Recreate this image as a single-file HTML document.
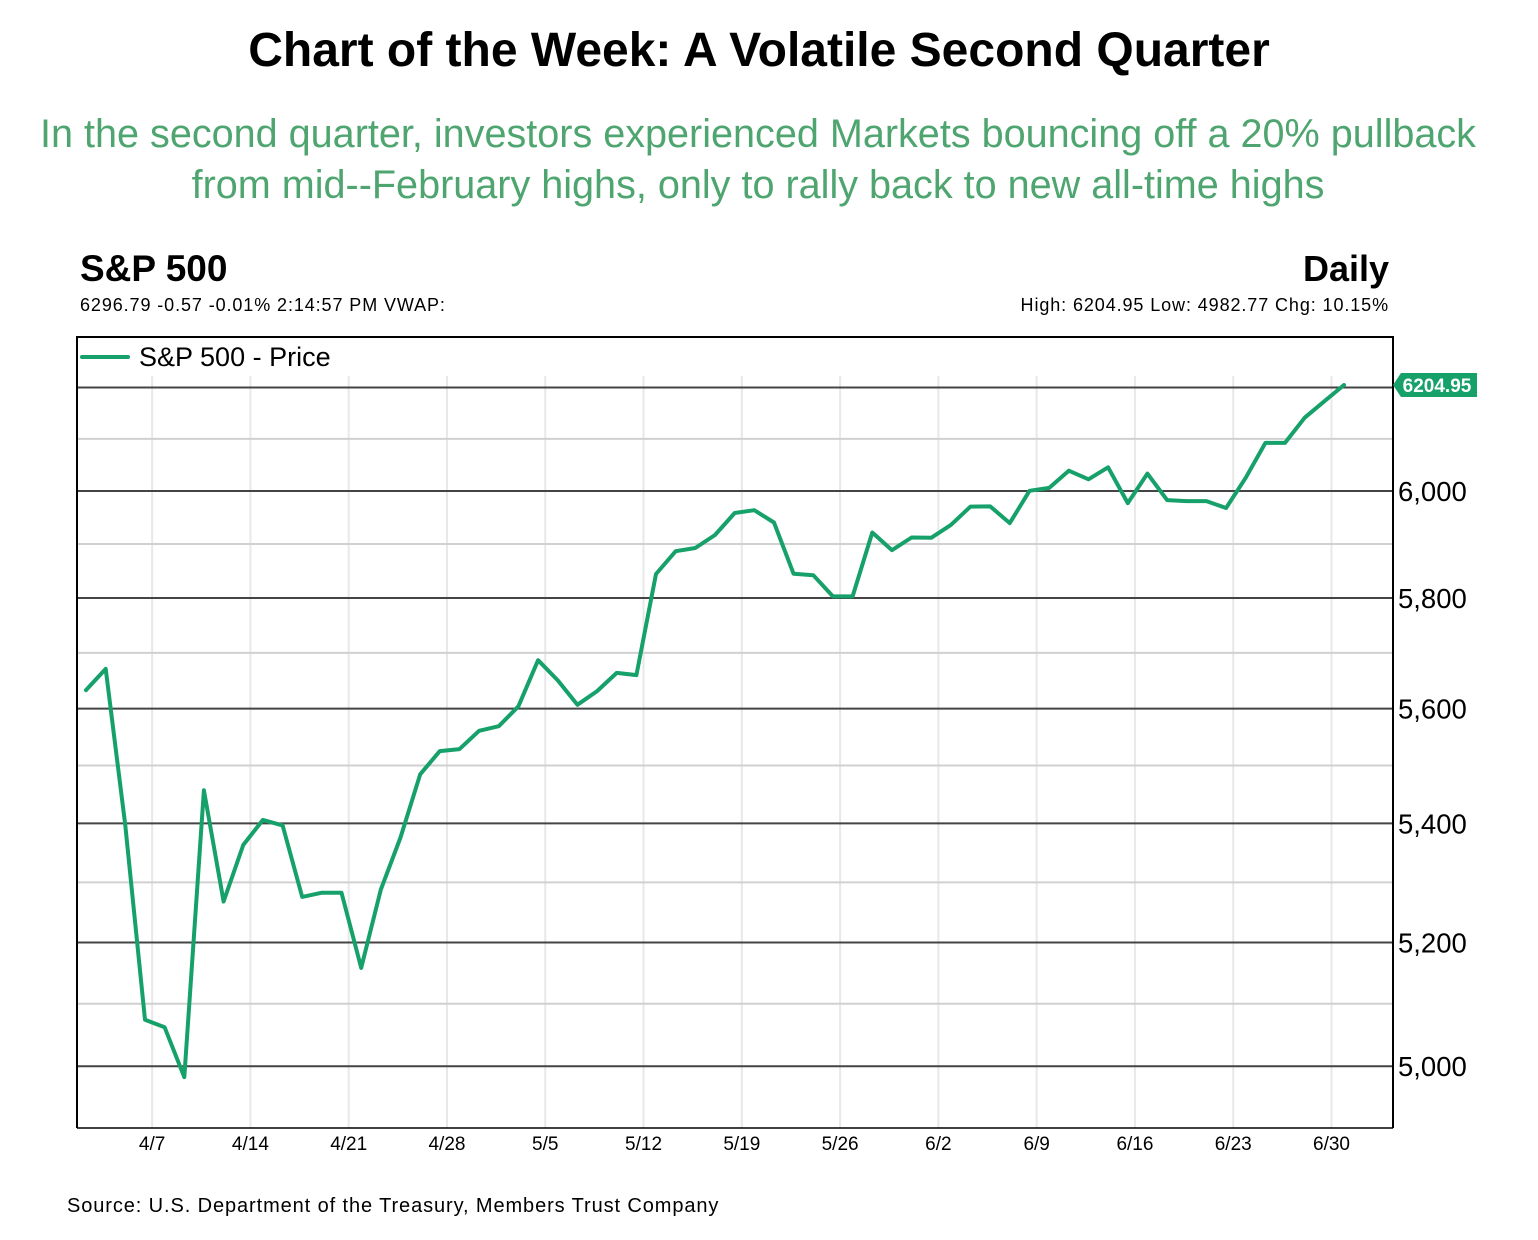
<!DOCTYPE html>
<html><head><meta charset="utf-8"><style>
body{margin:0;background:#fff;width:1538px;height:1240px;overflow:hidden;font-family:"Liberation Sans",Arial,sans-serif;}
.t{position:absolute;white-space:nowrap;}
</style></head><body>
<div class="t" style="left:0;width:1518px;text-align:center;top:23px;font-size:48px;font-weight:bold;color:#000;">Chart of the Week: A Volatile Second Quarter</div>
<div class="t" style="left:0;width:1516px;text-align:center;top:109px;font-size:39.6px;line-height:51px;color:#4ea56f;">In the second quarter, investors experienced Markets bouncing off a 20% pullback<br>from mid--February highs, only to rally back to new all-time highs</div>
<div class="t" style="left:80px;top:248px;font-size:37px;font-weight:bold;">S&amp;P 500</div>
<div class="t" style="left:80px;top:295px;font-size:18px;letter-spacing:0.9px;">6296.79 -0.57 -0.01% 2:14:57 PM VWAP:</div>
<div class="t" style="right:149px;top:248px;font-size:36px;font-weight:bold;">Daily</div>
<div class="t" style="right:149px;top:295px;font-size:18px;letter-spacing:0.9px;">High: 6204.95 Low: 4982.77 Chg: 10.15%</div>
<svg id="chart" style="position:absolute;left:0;top:0" width="1538" height="1240"></svg>
<div class="t" style="left:67px;top:1195px;font-size:20px;letter-spacing:0.9px;">Source: U.S. Department of the Treasury, Members Trust Company</div>
<script>
const dates=["4/1","4/2","4/3","4/4","4/7","4/8","4/9","4/10","4/11","4/14","4/15","4/16","4/17","4/18","4/21","4/22","4/23","4/24","4/25","4/28","4/29","4/30","5/1","5/2","5/5","5/6","5/7","5/8","5/9","5/12","5/13","5/14","5/15","5/16","5/19","5/20","5/21","5/22","5/23","5/26","5/27","5/28","5/29","5/30","6/2","6/3","6/4","6/5","6/6","6/9","6/10","6/11","6/12","6/13","6/16","6/17","6/18","6/19","6/20","6/23","6/24","6/25","6/26","6/27","6/30"];
const prices=[5633.07,5670.97,5396.52,5074.08,5062.25,4982.77,5456.90,5268.05,5363.36,5405.97,5396.63,5275.70,5282.70,5282.70,5158.20,5287.76,5375.86,5484.77,5525.21,5528.75,5560.83,5569.06,5604.14,5686.67,5650.38,5606.91,5631.28,5663.94,5659.91,5844.19,5886.55,5892.58,5916.93,5958.38,5963.60,5940.46,5844.61,5842.01,5802.82,5802.82,5921.54,5888.55,5912.17,5911.69,5935.94,5970.37,5970.81,5939.30,6000.36,6005.88,6038.81,6022.24,6045.26,5976.97,6033.11,5982.72,5980.87,5980.87,5967.84,6025.17,6092.18,6092.16,6141.02,6173.07,6204.95];
const xTicks=["4/7","4/14","4/21","4/28","5/5","5/12","5/19","5/26","6/2","6/9","6/16","6/23","6/30"];
const majorTicks=[5000,5200,5400,5600,5800,6000,6200];
const yLabels=["5,000","5,200","5,400","5,600","5,800","6,000",""];
const minorTicks=[5100,5300,5500,5700,5900,6100];
const svg=document.getElementById('chart');
const NS='http://www.w3.org/2000/svg';
const L=77,R=1393,T=337,B=1128;
const x0=86,step=(1344-86)/(dates.length-1);
function xs(i){return x0+i*step;}
function ys(v){return 491-Math.log(v/6000)*3155;}
function mk(tag,attrs){const e=document.createElementNS(NS,tag);for(const k in attrs)e.setAttribute(k,attrs[k]);svg.appendChild(e);return e;}
xTicks.forEach(d=>{const i=dates.indexOf(d);const x=xs(i)-12.5;
 const g=mk('line',{x1:x,x2:x,y1:T,y2:B,stroke:'#e8e8e8','stroke-width':2});
 
 
 const t=mk('text',{x:x,y:B+22,'text-anchor':'middle','font-size':19,'font-family':'Liberation Sans, Arial, sans-serif'});
 t.textContent=d;
 
 
});
minorTicks.forEach(v=>{const y=ys(v);
 const g=mk('line',{x1:L,x2:R,y1:y,y2:y,stroke:'#d0d0d0','stroke-width':2});
 
 
});
majorTicks.forEach((v,k)=>{const y=ys(v);
 const g=mk('line',{x1:L,x2:R,y1:y,y2:y,stroke:'#444','stroke-width':2});
 
 
 if(yLabels[k]){const t=mk('text',{x:R+5,y:y+10,'font-size':27.5,'font-family':'Liberation Sans, Arial, sans-serif'});
 t.textContent=yLabels[k];
 
 }
});
const lg=mk('rect',{x:L+1,y:T+1,width:R-L-2,height:38,fill:'#fff'});


const ll=mk('line',{x1:82,x2:128,y1:357,y2:357,stroke:'#16a06a','stroke-width':4,'stroke-linecap':'round'});


const lt=mk('text',{x:139,y:366,'font-size':27,'font-family':'Liberation Sans, Arial, sans-serif'});
lt.textContent='S&P 500 - Price';


const fr=mk('path',{d:`M${L},${B} L${L},${T} L${R},${T} L${R},${B}`,fill:'none',stroke:'#000','stroke-width':2});


const bl=mk('line',{x1:L,x2:R,y1:B,y2:B,stroke:'#000','stroke-width':1.5});


const pts=prices.map((p,i)=>xs(i).toFixed(1)+','+ys(p).toFixed(1)).join(' ');
const line=mk('polyline',{points:pts,fill:'none',stroke:'#16a06a','stroke-width':4,'stroke-linejoin':'round','stroke-linecap':'round'});


const last=prices[prices.length-1];const ly=ys(last);
const tag=mk('path',{d:`M${R},${ly} L${R+8},${ly-12} L${R+84},${ly-12} L${R+84},${ly+12} L${R+8},${ly+12} Z`,fill:'#16a06a'});


const tt=mk('text',{x:R+44,y:ly+7,'text-anchor':'middle','font-size':19,'font-weight':'bold',fill:'#fff','font-family':'Liberation Sans, Arial, sans-serif'});
tt.textContent=last.toFixed(2);


</script>
</body></html>
